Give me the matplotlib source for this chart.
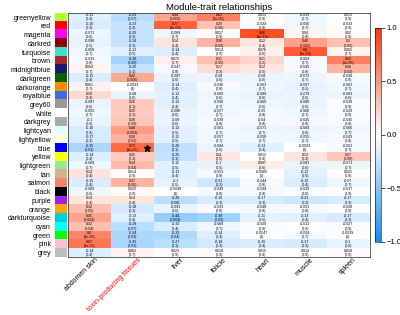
import numpy as np
import matplotlib
matplotlib.use("Agg")
import matplotlib.pyplot as plt
import matplotlib.transforms as mtransforms
from matplotlib.colors import LinearSegmentedColormap, to_rgba

plt.rcParams['font.family'] = ['Liberation Sans', 'DejaVu Sans']

# module names (row labels) and the swatch colours that go with them
modules = ['greenyellow', 'red', 'magenta', 'darkred', 'turquoise', 'brown',
           'midnightblue', 'darkgreen', 'darkorange', 'royalblue', 'grey60',
           'white', 'darkgrey', 'lightcyan', 'lightyellow', 'blue', 'yellow',
           'lightgreen', 'tan', 'salmon', 'black', 'purple', 'orange',
           'darkturquoise', 'cyan', 'green', 'pink', 'grey']
swatch_colors = ['#ADFF2F', '#FF0000', '#FF00FF', '#8B0000', '#40E0D0', '#A52A2A',
                 '#191970', '#006400', '#FF8C00', '#4169E1', '#999999',
                 '#FFFFFF', '#A9A9A9', '#E0FFFF', '#FFFFE0', '#0000FF', '#FFFF00',
                 '#90EE90', '#D2B48C', '#FA8072', '#000000', '#A020F0', '#FFA500',
                 '#00CED1', '#00FFFF', '#00FF00', '#FFC0CB', '#BEBEBE']

traits = ['abdomen skin', 'toxin-producing tissues', 'liver', 'folicle',
          'heart', 'muscle', 'spleen']

# correlation and p-value per trait, rows in module order
abdomen_r = [-0.13, -0.16, -0.071, -0.098, -0.058, -0.033, 0.054, -0.15, 0.061, 0.18,
             -0.087, -0.055, -0.1, -0.16, -0.17, -0.35, -0.14, -0.069, 0.14, -0.15,
             -0.069, 0.14, 0.32, 0.45, 0.32, 0.6, 0.67, -0.14]
abdomen_p = [0.4, 0.3, 0.6, 0.5, 0.7, 0.8, 0.7, 0.4, 0.7, 0.3,
             0.6, 0.7, 0.5, 0.3, 0.3, 0.03, 0.4, 0.7, 0.4, 0.4,
             0.6, 0.4, 0.05, 0.004, 0.04, 4e-05, 3e-06, 0.4]
toxin_r = [-0.29, -0.23, -0.25, -0.24, -0.12, -0.38, -0.25, 0.42, -0.0033, -0.08,
           0.26, 0.25, 0.28, 0.48, 0.38, 0.73, 0.25, 0.34, 0.014, 0.37,
           0.025, 0.14, -0.18, -0.13, -0.29, -0.34, -0.35, 0.062]
toxin_p = [0.07, 0.2, 0.1, 0.1, 0.5, 0.02, 0.1, 0.006, 1, 0.6,
           0.1, 0.1, 0.09, 0.002, 0.02, 3e-07, 0.1, 0.04, 0.9, 0.02,
           0.9, 0.4, 0.3, 0.4, 0.07, 0.03, 0.03, 0.7]
liver_r = [0.44, 0.77, -0.068, 0.14, -0.14, 0.072, -0.047, -0.087, -0.14, -0.12,
           -0.13, -0.086, -0.08, -0.12, -0.11, -0.26, -0.25, -0.11, -0.13, -0.1,
           -0.0049, -0.28, -0.091, -0.44, -0.15, -0.33, -0.27, 0.023]
liver_p = [0.003, 2e-09, 0.7, 0.4, 0.4, 0.7, 0.8, 0.6, 0.4, 0.4,
           0.4, 0.6, 0.6, 0.5, 0.5, 0.1, 0.1, 0.5, 0.4, 0.5,
           1, 0.08, 0.6, 0.004, 0.4, 0.04, 0.1, 0.9]
folicle_r = [0.61, 0.29, 0.017, 0.36, 0.014, 0.31, 0.17, -0.08, -0.036, -0.069,
             -0.056, -0.057, -0.039, -0.061, -0.057, -0.084, 0.11, -0.1, -0.053, -0.21,
             -0.049, -0.16, -0.033, -0.38, -0.068, -0.14, -0.18, 0.018]
folicle_p = [2e-05, 0.06, 0.9, 0.02, 0.9, 0.05, 0.3, 0.6, 0.8, 0.6,
             0.7, 0.7, 0.8, 0.7, 0.7, 0.6, 0.5, 0.5, 0.8, 0.2,
             0.8, 0.3, 0.8, 0.02, 0.7, 0.4, 0.3, 0.9]
heart_r = [0.013, -0.024, 0.86, 0.12, 0.076, 0.21, 0.12, -0.08, -0.063, -0.088,
           -0.068, -0.05, -0.04, -0.071, -0.058, -0.13, 0.012, 0.087, -0.0065, -0.044,
           -0.034, -0.17, -0.048, -0.11, -0.029, -0.0047, -0.15, 0.015]
heart_p = [0.9, 0.9, 3e-13, 0.4, 0.6, 0.2, 0.5, 0.6, 0.7, 0.6,
           0.6, 0.8, 0.8, 0.7, 0.7, 0.4, 0.9, 0.6, 1, 0.8,
           0.8, 0.3, 0.8, 0.5, 0.9, 1, 0.4, 0.9]
muscle_r = [-0.059, -0.056, 0.04, 0.46, 0.8, -0.054, -0.045, -0.073, -0.097, -0.079,
            -0.088, -0.066, -0.045, -0.084, -0.055, -0.0023, 0.13, -0.083, -0.12, -0.15,
            -0.029, -0.21, -0.051, -0.13, -0.012, -0.054, -0.17, 0.014]
muscle_p = [0.7, 0.7, 0.8, 0.002, 2e-10, 0.7, 0.8, 0.7, 0.5, 0.6,
            0.6, 0.7, 0.8, 0.6, 0.7, 1, 0.4, 0.6, 0.5, 0.4,
            0.9, 0.2, 0.8, 0.4, 0.9, 0.7, 0.3, 0.9]
spleen_r = [0.015, -0.013, 0.02, 0.3, 0.055, 0.62, 0.36, -0.036, -0.062, -0.083,
            -0.029, -0.029, -0.045, -0.066, -0.043, -0.052, 0.27, -0.071, 0.021, -0.07,
            -0.017, -0.17, -0.028, -0.17, -0.027, -0.0029, -0.1, 0.018]
spleen_p = [0.9, 0.9, 0.9, 0.05, 0.7, 1e-05, 0.02, 0.8, 0.7, 0.6,
            0.9, 0.9, 0.8, 0.7, 0.8, 0.7, 0.09, 0.7, 0.9, 0.7,
            0.9, 0.3, 0.9, 0.3, 0.9, 1, 0.5, 0.9]

# the starred cell
star_module = 'blue'
star_trait = 'toxin-producing tissues'

corr = np.column_stack([abdomen_r, toxin_r, liver_r, folicle_r,
                        heart_r, muscle_r, spleen_r])
pval = np.column_stack([abdomen_p, toxin_p, liver_p, folicle_p,
                        heart_p, muscle_p, spleen_p])
n_rows, n_cols = corr.shape

# WGCNA style blue-white-red
cmap = LinearSegmentedColormap.from_list(
    'bwr_wgcna', ['#0D8CFF', '#FFFFFF', '#FF3300'])

fig = plt.figure(figsize=(4, 3.15), dpi=100)

ax = fig.add_axes([0.17, 0.184, 0.755, 0.775])
im = ax.imshow(corr, cmap=cmap, vmin=-1, vmax=1, aspect='auto',
               interpolation='nearest')
for i in range(n_rows):
    for j in range(n_cols):
        txt = '%.2g\n(%.1g)' % (corr[i, j], pval[i, j])
        ax.text(j, i, txt, ha='center', va='center', fontsize=2.6,
                linespacing=1.1, color='black')

si = modules.index(star_module)
sj = traits.index(star_trait)
ax.plot(sj + 0.33, si, marker='*', color='black', markersize=4.5)

ax.set_yticks([])
ax.set_xticks(range(n_cols))
ax.set_xticklabels(traits, rotation=45, ha='right', va='center',
                   rotation_mode='anchor', fontsize=5.0)
ax.tick_params(axis='x', length=0, pad=1.5)
shift = mtransforms.ScaledTranslation(7 / 100, 0, fig.dpi_scale_trans)
for lab in ax.get_xticklabels():
    lab.set_transform(lab.get_transform() + shift)
ax.get_xticklabels()[1].set_color('red')
for s in ax.spines.values():
    s.set_linewidth(0.6)
    s.set_color('#444444')
ax.set_title('Module-trait relationships', fontsize=6.8, pad=2)

# module colour swatches
sw = fig.add_axes([0.138, 0.184, 0.028, 0.775])
rgb = np.array([to_rgba(c)[:3] for c in swatch_colors]).reshape(n_rows, 1, 3)
sw.imshow(rgb, aspect='auto', interpolation='nearest')
sw.set_xticks([])
sw.set_yticks(range(n_rows))
sw.set_yticklabels(modules, fontsize=5)
sw.tick_params(axis='y', length=0, pad=3)
for s in sw.spines.values():
    s.set_visible(False)

# colour bar
cax = fig.add_axes([0.938, 0.232, 0.014, 0.68])
cb = fig.colorbar(im, cax=cax, ticks=[-1, -0.5, 0, 0.5, 1])
cb.ax.tick_params(labelsize=5.5, length=3, width=0.5, pad=1)
cb.outline.set_linewidth(0.4)

fig.savefig('out.png', dpi=100)
